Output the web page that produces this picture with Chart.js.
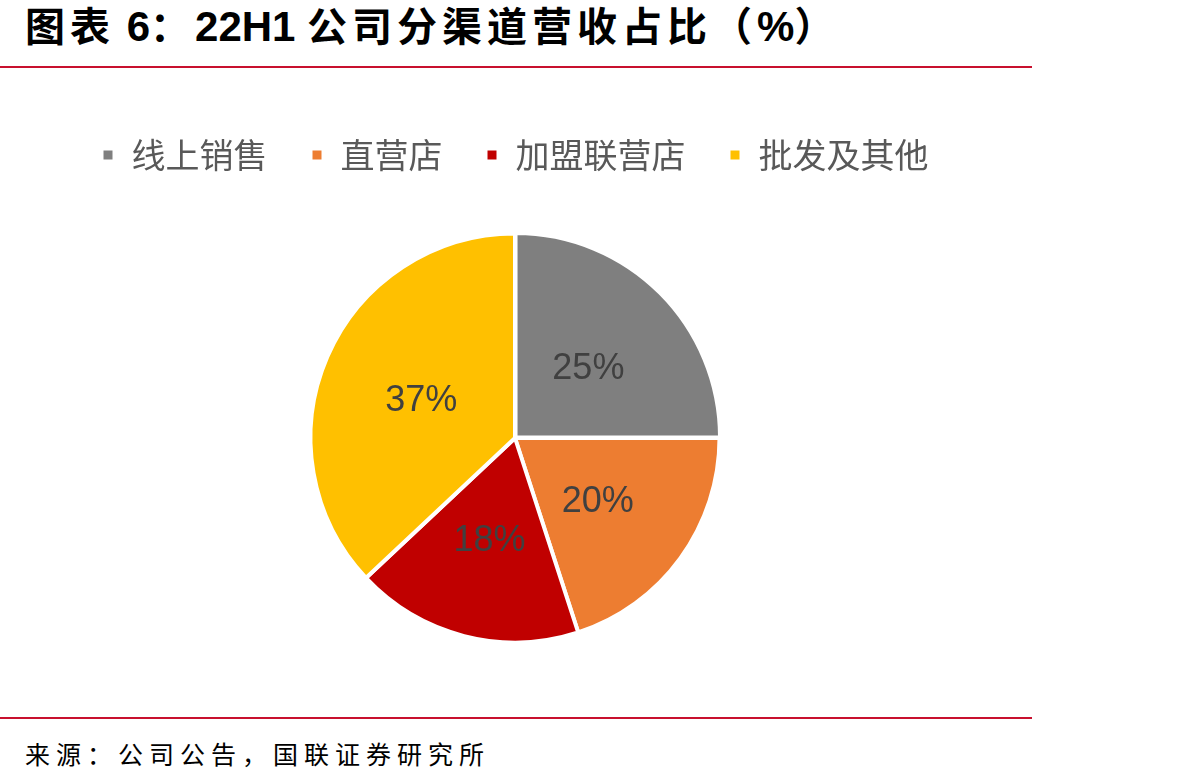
<!DOCTYPE html>
<html>
<head>
<meta charset="utf-8">
<script src="https://cdn.jsdelivr.net/npm/chart.js@4.4.0/dist/chart.umd.min.js"></script>
<style>
  html, body { margin: 0; padding: 0; background: #fff; }
  body { width: 1186px; height: 784px; position: relative; overflow: hidden; }
  .title {
    position: absolute; left: 25px; top: 0px; line-height: 48px;
    font-weight: bold; color: #000; white-space: nowrap;
  }
  .title .cj { font-family: "Noto Sans CJK SC", sans-serif; font-size: 40px; letter-spacing: 5px; }
  .title .lt { font-family: "Liberation Sans Narrow", "Liberation Sans", Arial, sans-serif; font-size: 42px; }
  .rule { position: absolute; left: 0; width: 1032px; height: 2px; background: #C8102E; }
  .source {
    position: absolute; left: 25px; top: 735px;
    font-family: "Noto Sans CJK SC", sans-serif;
    font-size: 25px; letter-spacing: 6px; color: #000; white-space: nowrap;
  }
  #wrap { position: absolute; left: 0; top: 75px; width: 1030px; height: 571px; }
</style>
</head>
<body>
<div class="title"><span class="cj">图表</span><span class="lt"> 6</span><span class="cj">：</span><span class="lt">22H1 </span><span class="cj">公司分渠道营收占比（</span><span class="lt">%</span><span class="cj">）</span></div>
<div class="rule" style="top:66px"></div>
<div id="wrap"><canvas id="pieChart"></canvas></div>
<div class="rule" style="top:717px"></div>
<div class="source">来源：公司公告，国联证券研究所</div>

<script>
// 各渠道营收占比
const channels = ['线上销售', '直营店', '加盟联营店', '批发及其他'];
const shares = [25, 20, 18, 37];
const sliceColors = ['#7F7F7F', '#ED7D31', '#C00000', '#FFC000'];

// 图例与饼图之间留出空白
const legendGap = {
    id: 'legendGap',
    beforeInit(chart) {
        const origFit = chart.legend.fit;
        chart.legend.fit = function() {
            origFit.bind(chart.legend)();
            this.height += 48;
        };
    }
};

// 扇区内百分比标签
const sliceLabels = {
    id: 'sliceLabels',
    afterDatasetsDraw(chart) {
        const ctx = chart.ctx;
        const meta = chart.getDatasetMeta(0);
        ctx.save();
        ctx.font = '36px "Liberation Sans", Arial, sans-serif';
        ctx.fillStyle = '#404040';
        ctx.textAlign = 'center';
        ctx.textBaseline = 'middle';
        meta.data.forEach((arc, i) => {
            const pos = arc.tooltipPosition();
            ctx.fillText(shares[i] + '%', pos.x, pos.y + 4);
        });
        ctx.restore();
    }
};

const ctx = document.getElementById('pieChart').getContext('2d');
new Chart(ctx, {
    type: 'pie',
    data: {
        labels: channels,
        datasets: [{
            data: shares,
            backgroundColor: sliceColors,
            borderColor: '#ffffff',
            borderWidth: 4,
            offset: [3, 0, 0, 0]
        }]
    },
    options: {
        responsive: true,
        maintainAspectRatio: false,
        animation: false,
        layout: { padding: { top: 20 } },
        plugins: {
            legend: {
                position: 'top',
                labels: {
                    font: { family: '"Noto Sans CJK SC", sans-serif', size: 34 },
                    color: '#595959',
                    boxWidth: 13,
                    boxHeight: 13,
                    padding: 43
                }
            },
            tooltip: { enabled: false }
        }
    },
    plugins: [legendGap, sliceLabels]
});
</script>
</body>
</html>
